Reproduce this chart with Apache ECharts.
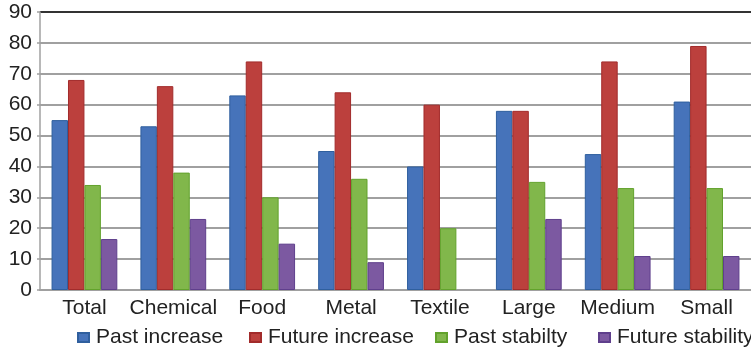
<!DOCTYPE html>
<html lang="en">

<head>
    <meta charset="UTF-8">
    <title>Increase and stability</title>
    <script src="https://cdn.jsdelivr.net/npm/echarts@6/dist/echarts.min.js"></script>
    <style>
        html, body { margin: 0; padding: 0; background: #fff; }
        #chart { width: 751px; height: 350px; }
    </style>
</head>

<body>
    <div id="chart"></div>
    <script>
        const categories = ['Total', 'Chemical', 'Food', 'Metal', 'Textile', 'Large', 'Medium', 'Small'];
        const pastIncrease = [55, 53, 63, 45, 40, 58, 44, 61];
        const futureIncrease = [68, 66, 74, 64, 60, 58, 74, 79];
        const pastStability = [34, 38, 30, 36, 20, 35, 33, 33];
        const futureStability = [16.5, 23, 15, 9, 0, 23, 11, 11];
        const yTicks = [0, 10, 20, 30, 40, 50, 60, 70, 80, 90];

        const font = 'Liberation Sans, Arial, sans-serif';
        let myChart = echarts.init(document.getElementById('chart'));

        // one legend per series so each item can sit where the original has it
        function legendAt(name, left) {
            return {
                data: [name],
                left: left,
                top: 322,
                icon: 'rect',
                itemWidth: 11,
                itemHeight: 9,
                textStyle: { fontFamily: font, fontSize: 21, color: '#222', padding: [0, 0, 0, 2] }
            };
        }

        function barSeries(name, data, fill, border) {
            return {
                name: name,
                type: 'bar',
                // a zero bar would still show its border, so drop it there
                data: data.map(v => v === 0 ? { value: v, itemStyle: { borderWidth: 0 } } : v),
                barGap: '0%',
                barCategoryGap: '26%',
                itemStyle: { color: fill, borderColor: border, borderWidth: 1 }
            };
        }

        let gridColors = yTicks.map((v, i) => i === yTicks.length - 1 ? '#333' : '#a0a0a0');

        let option = {
            animation: false,
            backgroundColor: '#fff',
            grid: { left: 40, top: 12, width: 718, height: 278 },
            legend: [
                legendAt('Past increase', 72),
                legendAt('Future increase', 244),
                legendAt('Past stabilty', 430),
                legendAt('Future stability', 593)
            ],
            xAxis: {
                type: 'category',
                data: categories,
                axisLine: { lineStyle: { color: '#a0a0a0', width: 2 } },
                axisTick: { show: false },
                axisLabel: { fontFamily: font, fontSize: 21, color: '#222', margin: 8, interval: 0 }
            },
            yAxis: {
                type: 'value',
                min: yTicks[0],
                max: yTicks[yTicks.length - 1],
                interval: 10,
                axisLine: { show: true, lineStyle: { color: '#a0a0a0', width: 1.5 } },
                axisTick: { show: true, length: 3, lineStyle: { color: '#a0a0a0', width: 1.5 } },
                axisLabel: { fontFamily: font, fontSize: 21, color: '#222', margin: 8 },
                splitLine: { lineStyle: { color: gridColors, width: 2 } }
            },
            series: [
                barSeries('Past increase', pastIncrease, '#4673ba', '#2f5f9e'),
                barSeries('Future increase', futureIncrease, '#bc403d', '#a22b2b'),
                barSeries('Past stabilty', pastStability, '#81b74b', '#62a22c'),
                barSeries('Future stability', futureStability, '#7c59a1', '#5f3f8c')
            ]
        };

        myChart.setOption(option);
    </script>
</body>

</html>
